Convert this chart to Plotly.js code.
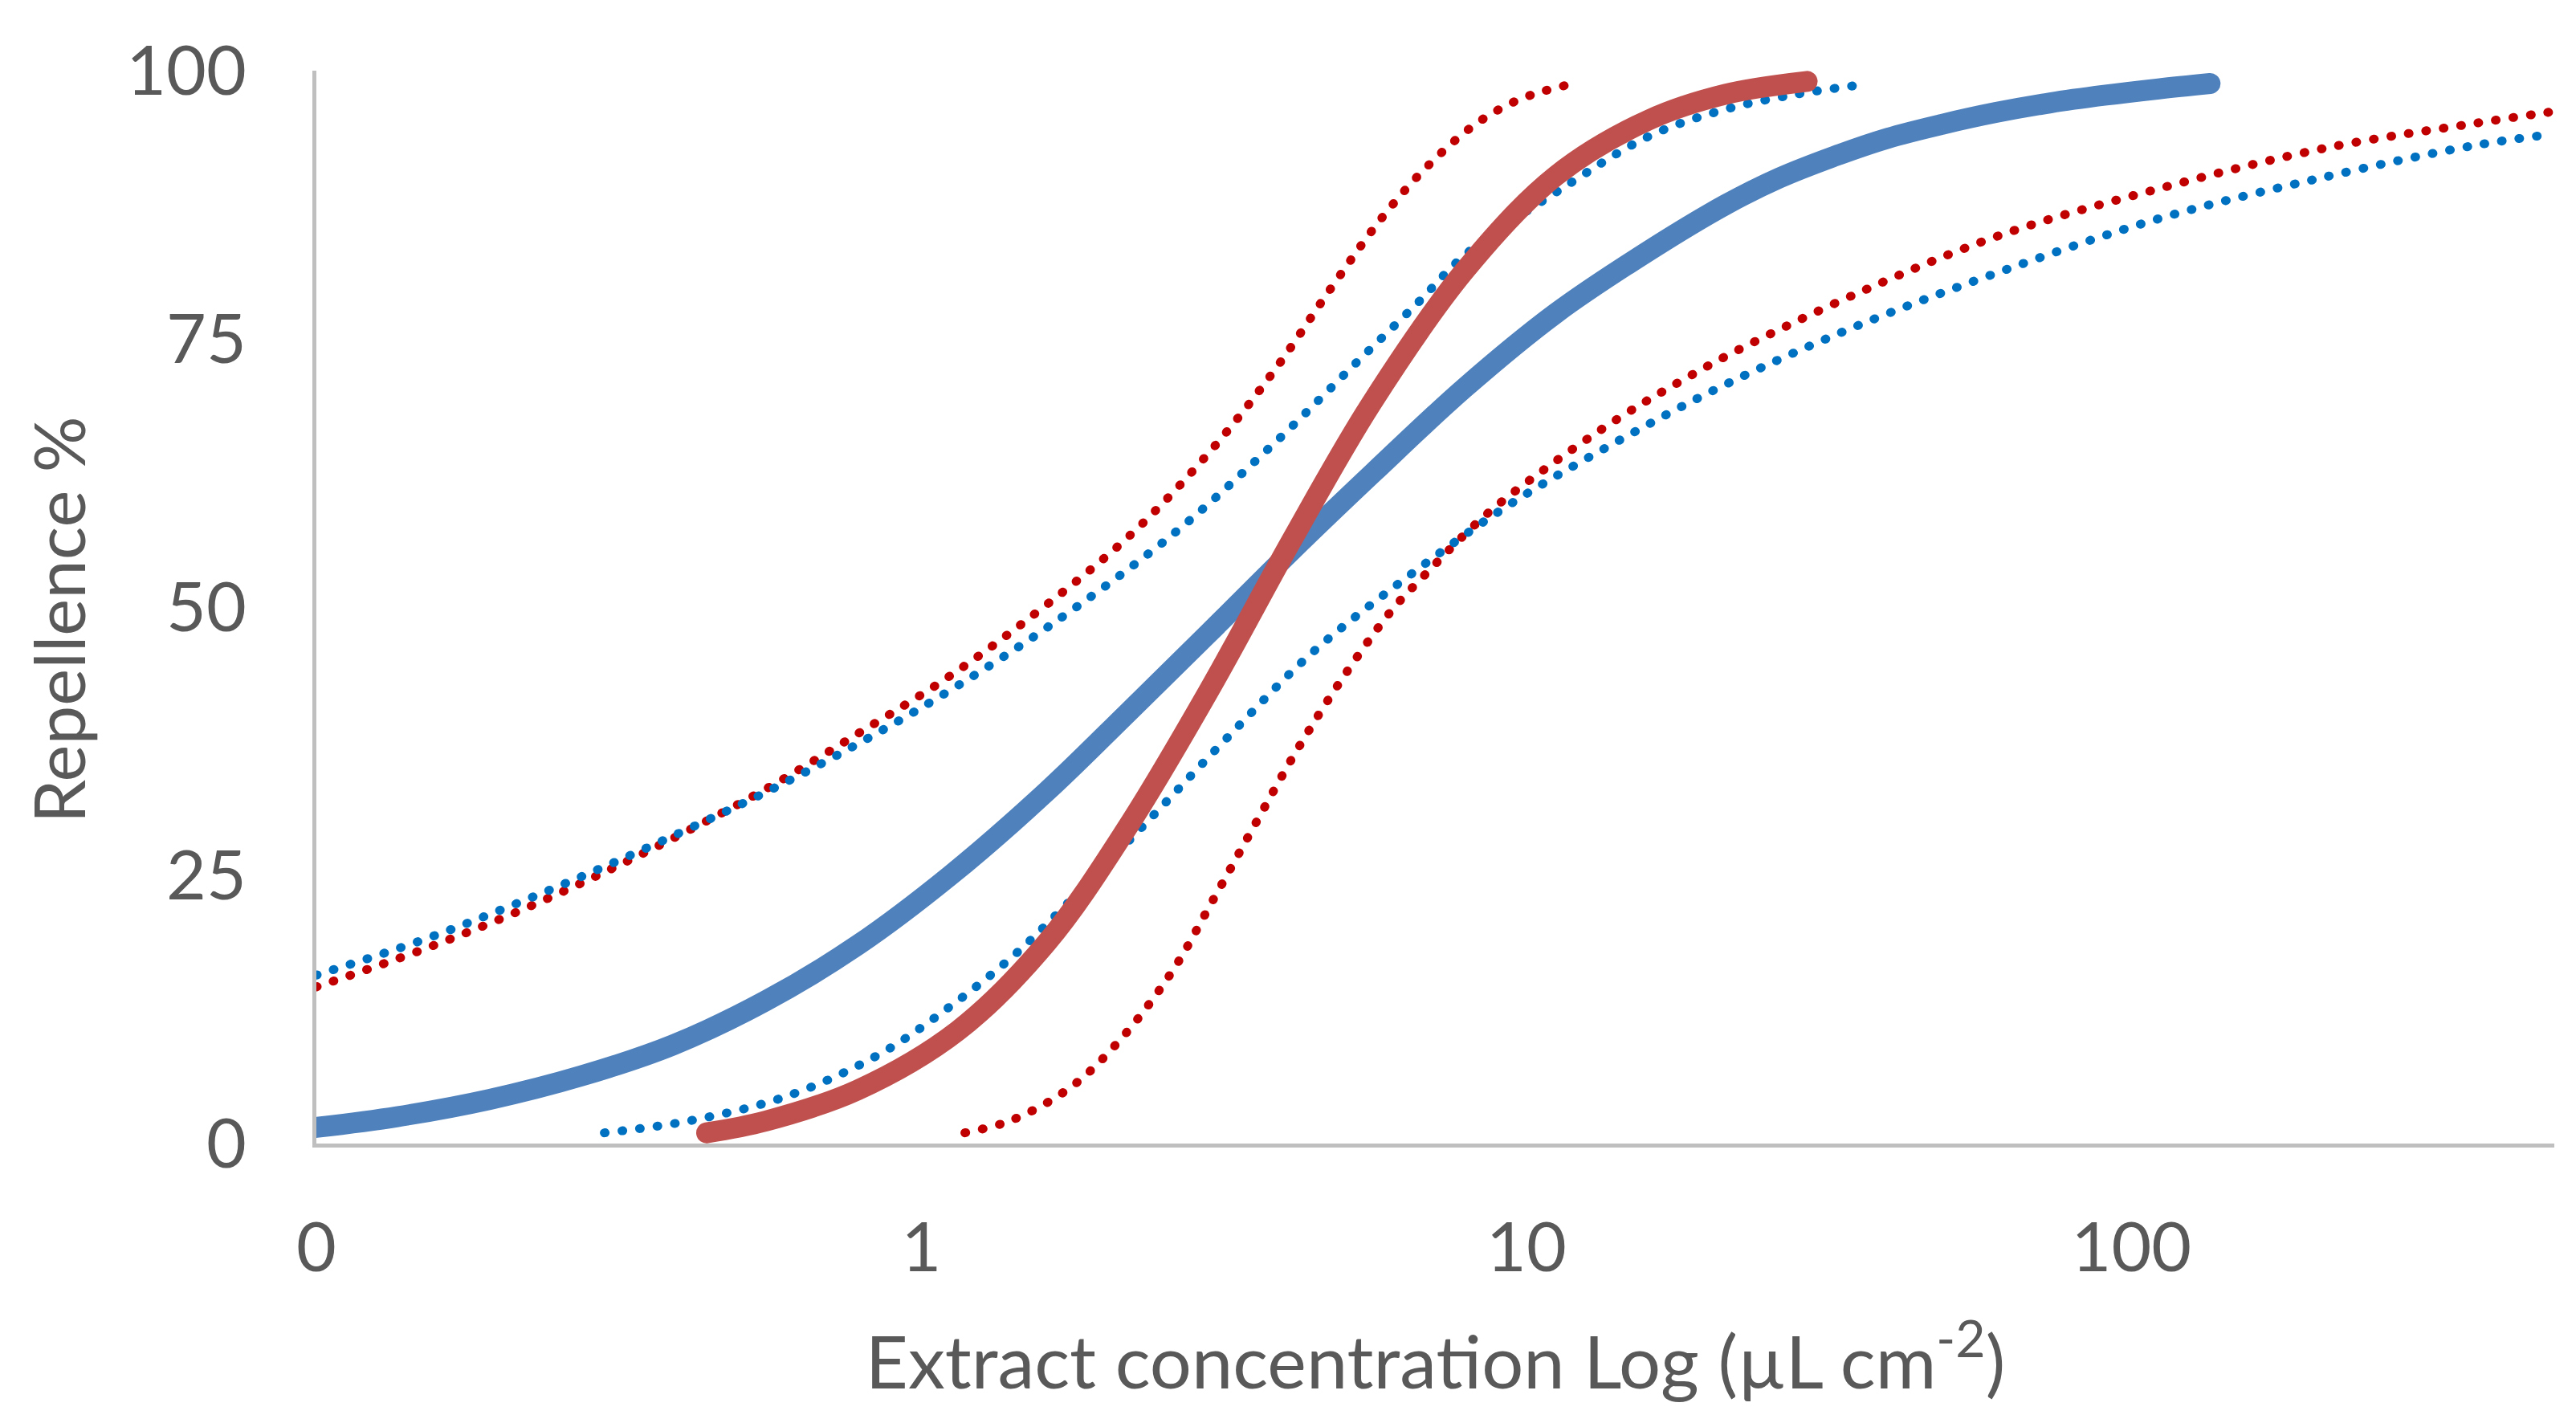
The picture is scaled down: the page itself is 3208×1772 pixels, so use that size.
<!DOCTYPE html>
<html>
<head>
<meta charset="utf-8">
<script src="https://cdn.plot.ly/plotly-3.0.1.min.js"></script>
<style>
  html, body { margin: 0; padding: 0; background: #ffffff; }
  #chart { width: 3208px; height: 1772px; }
  .js-line { stroke-linecap: round; stroke-linejoin: round; }
</style>
</head>
<body>
<div id="chart"></div>
<script>
// ---- Data (x = extract concentration, µL cm-2 ; y = repellence %) ----
const blueFitX = [0.1, 0.136, 0.193, 0.274, 0.389, 0.553, 0.785, 1.117, 1.61, 2.198, 3.0, 4.10, 5.60, 7.89, 11.19, 15.92, 21.33, 26.18, 32.21, 39.54, 48.64, 59.70, 73.45, 90.16, 110.9, 134.9];
const blueFitY = [1.5, 2.5, 4.1, 6.3, 9.2, 13.3, 18.5, 25.0, 32.8, 40.2, 47.7, 55.3, 62.6, 70.4, 77.4, 83.2, 87.5, 90.0, 92.0, 93.7, 95.0, 96.1, 97.0, 97.7, 98.3, 98.8];

const redFitX = [0.4416, 0.553, 0.785, 1.148, 1.61, 2.198, 3.0, 4.10, 5.546, 7.89, 11.19, 15.92, 21.33, 29.11];
const redFitY = [1.0, 2.1, 5.0, 10.5, 18.7, 29.6, 42.4, 56.3, 69.0, 81.3, 90.2, 95.4, 97.8, 99.0];

const blueUpperX = [0.1, 0.1486, 0.2128, 0.302, 0.4295, 0.5741, 0.8054, 1.127, 1.633, 2.606, 3.819, 5.26, 6.622, 7.943, 11.51, 15.96, 21.33, 27.93, 35.97];
const blueUpperY = [15.7, 18.9, 22.3, 25.9, 29.8, 33.2, 37.6, 42.4, 48.3, 56.8, 65.2, 72.9, 78.4, 82.9, 89.1, 93.9, 96.4, 97.8, 98.7];

const blueLowerX = [0.2992, 0.4121, 0.5984, 0.8511, 1.117, 1.426, 1.71, 2.344, 3.199, 4.395, 6.252, 9.462, 15.63, 21.98, 35.16, 60.95, 110.9, 205.6, 366.4, 498.9];
const blueLowerY = [1.0, 2.1, 4.4, 8.3, 12.8, 17.6, 21.9, 29.8, 37.8, 45.6, 52.5, 59.7, 66.8, 71.1, 76.2, 81.3, 86.2, 90.0, 93.0, 94.1];

const redUpperX = [0.1, 0.1486, 0.2128, 0.302, 0.4256, 0.5636, 0.7852, 1.089, 1.486, 2.213, 3.02, 3.837, 4.764, 5.754, 6.808, 8.279, 9.817, 11.75];
const redUpperY = [14.6, 18.0, 21.5, 25.4, 29.6, 33.3, 38.2, 43.2, 48.7, 56.7, 64.7, 72.1, 79.8, 86.2, 90.9, 95.1, 97.4, 98.7];

const redLowerX = [1.18, 1.413, 1.77, 2.133, 2.594, 3.041, 3.548, 4.159, 4.943, 5.97, 6.792, 8.531, 10.99, 14.29, 17.91, 22.44, 35.73, 60.95, 112.7, 209.9, 370.7, 500];
const redLowerY = [1.0, 2.2, 5.3, 9.7, 16.0, 22.8, 29.6, 36.5, 43.2, 49.6, 53.0, 58.5, 63.3, 67.7, 71.0, 74.0, 79.4, 84.7, 89.1, 92.8, 95.1, 96.2];

const xTickVals = [0.1, 1, 10, 100];
const xTickText = ['0', '1', '10', '100'];
const yTickVals = [0, 25, 50, 75, 100];
const yTickText = ['0', '25', '50', '75', '100'];

const xTitle = 'Extract concentration Log (µL cm<sup>-2</sup>)';
const yTitle = 'Repellence %';

// ---- Styling ----
const FONT = 'Lato, "Noto Sans", sans-serif';
const TXT = '#595959';
const dotted = (x, y, color) => ({
  x: x, y: y, type: 'scatter', mode: 'lines', hoverinfo: 'skip',
  line: { color: color, width: 11, dash: '1px,21px', shape: 'spline', smoothing: 1 }
});
const solid = (x, y, color) => ({
  x: x, y: y, type: 'scatter', mode: 'lines', hoverinfo: 'skip',
  line: { color: color, width: 26, shape: 'spline', smoothing: 1 }
});

const traces = [
  dotted(redUpperX, redUpperY, '#C00000'),
  dotted(redLowerX, redLowerY, '#C00000'),
  dotted(blueUpperX, blueUpperY, '#0070C0'),
  dotted(blueLowerX, blueLowerY, '#0070C0'),
  solid(blueFitX, blueFitY, '#4F81BD'),
  solid(redFitX, redFitY, '#C0504D')
];

const layout = {
  width: 3208, height: 1772,
  paper_bgcolor: '#ffffff', plot_bgcolor: '#ffffff',
  showlegend: false,
  margin: { l: 394, r: 27, t: 88, b: 348, pad: 0 },
  font: { family: FONT, color: TXT, size: 86 },
  xaxis: {
    type: 'log',
    range: [-1, Math.log10(500)],
    tickmode: 'array', tickvals: xTickVals, ticktext: xTickText,
    ticks: '', showgrid: false, zeroline: false,
    showline: true, linecolor: '#BFBFBF', linewidth: 5,
    tickfont: { family: FONT, size: 86, color: TXT },
    ticklabelstandoff: 51,
    title: { text: xTitle, font: { family: FONT, size: 92, color: TXT }, standoff: 66 },
    fixedrange: true
  },
  yaxis: {
    range: [0, 100],
    tickmode: 'array', tickvals: yTickVals, ticktext: yTickText,
    ticks: '', showgrid: false, zeroline: false,
    showline: true, linecolor: '#BFBFBF', linewidth: 5,
    tickfont: { family: FONT, size: 86, color: TXT },
    ticklabelstandoff: 65,
    fixedrange: true
  },
  annotations: [{
    text: yTitle, xref: 'paper', yref: 'paper',
    x: -0.1155, y: 0.488, xanchor: 'center', yanchor: 'middle',
    textangle: -90, showarrow: false,
    font: { family: FONT, size: 87, color: TXT }
  }]
};

Plotly.newPlot('chart', traces, layout, { staticPlot: true, displayModeBar: false });
</script>
</body>
</html>
